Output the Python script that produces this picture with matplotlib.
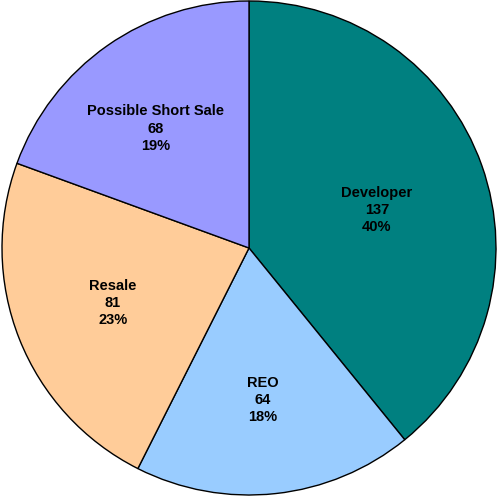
import numpy as np
import matplotlib.pyplot as plt

categories = ['Developer', 'REO', 'Resale', 'Possible Short Sale']
counts = [137, 64, 81, 68]
pct_labels = ['40%', '18%', '23%', '19%']
colors = ['#008080', '#99CCFF', '#FFCC99', '#9999FF']

fig = plt.figure(figsize=(5.0, 4.96), dpi=100)
fig.patch.set_facecolor('white')
ax = fig.add_axes([0, 0, 1, 1])

wedges, _ = ax.pie(counts, colors=colors, startangle=90, counterclock=False,
                   radius=1.0, wedgeprops=dict(edgecolor='black', linewidth=1.0))

# label placement: fraction of radius and angle nudge (deg), like Excel's best fit
label_r = [0.54, 0.618, 0.594, 0.614]
label_dang = [-3.0, -0.9, 0.5, 3.2]
for w, name, n, p, r, da in zip(wedges, categories, counts, pct_labels, label_r, label_dang):
    ang = np.deg2rad((w.theta1 + w.theta2) / 2 + da)
    ax.text(r * np.cos(ang), r * np.sin(ang), f'{name}\n{n}\n{p}',
            ha='center', va='center', fontsize=10.5, fontweight='bold',
            family=['Liberation Sans', 'DejaVu Sans'], linespacing=1.3)

# pie centre at (249, 248) px, radius 247 px
ax.set_xlim(-249 / 247, (500 - 249) / 247)
ax.set_ylim(-248 / 247, 248 / 247)
ax.set_aspect('auto')
ax.axis('off')

fig.savefig('out.png', dpi=100, facecolor='white')
